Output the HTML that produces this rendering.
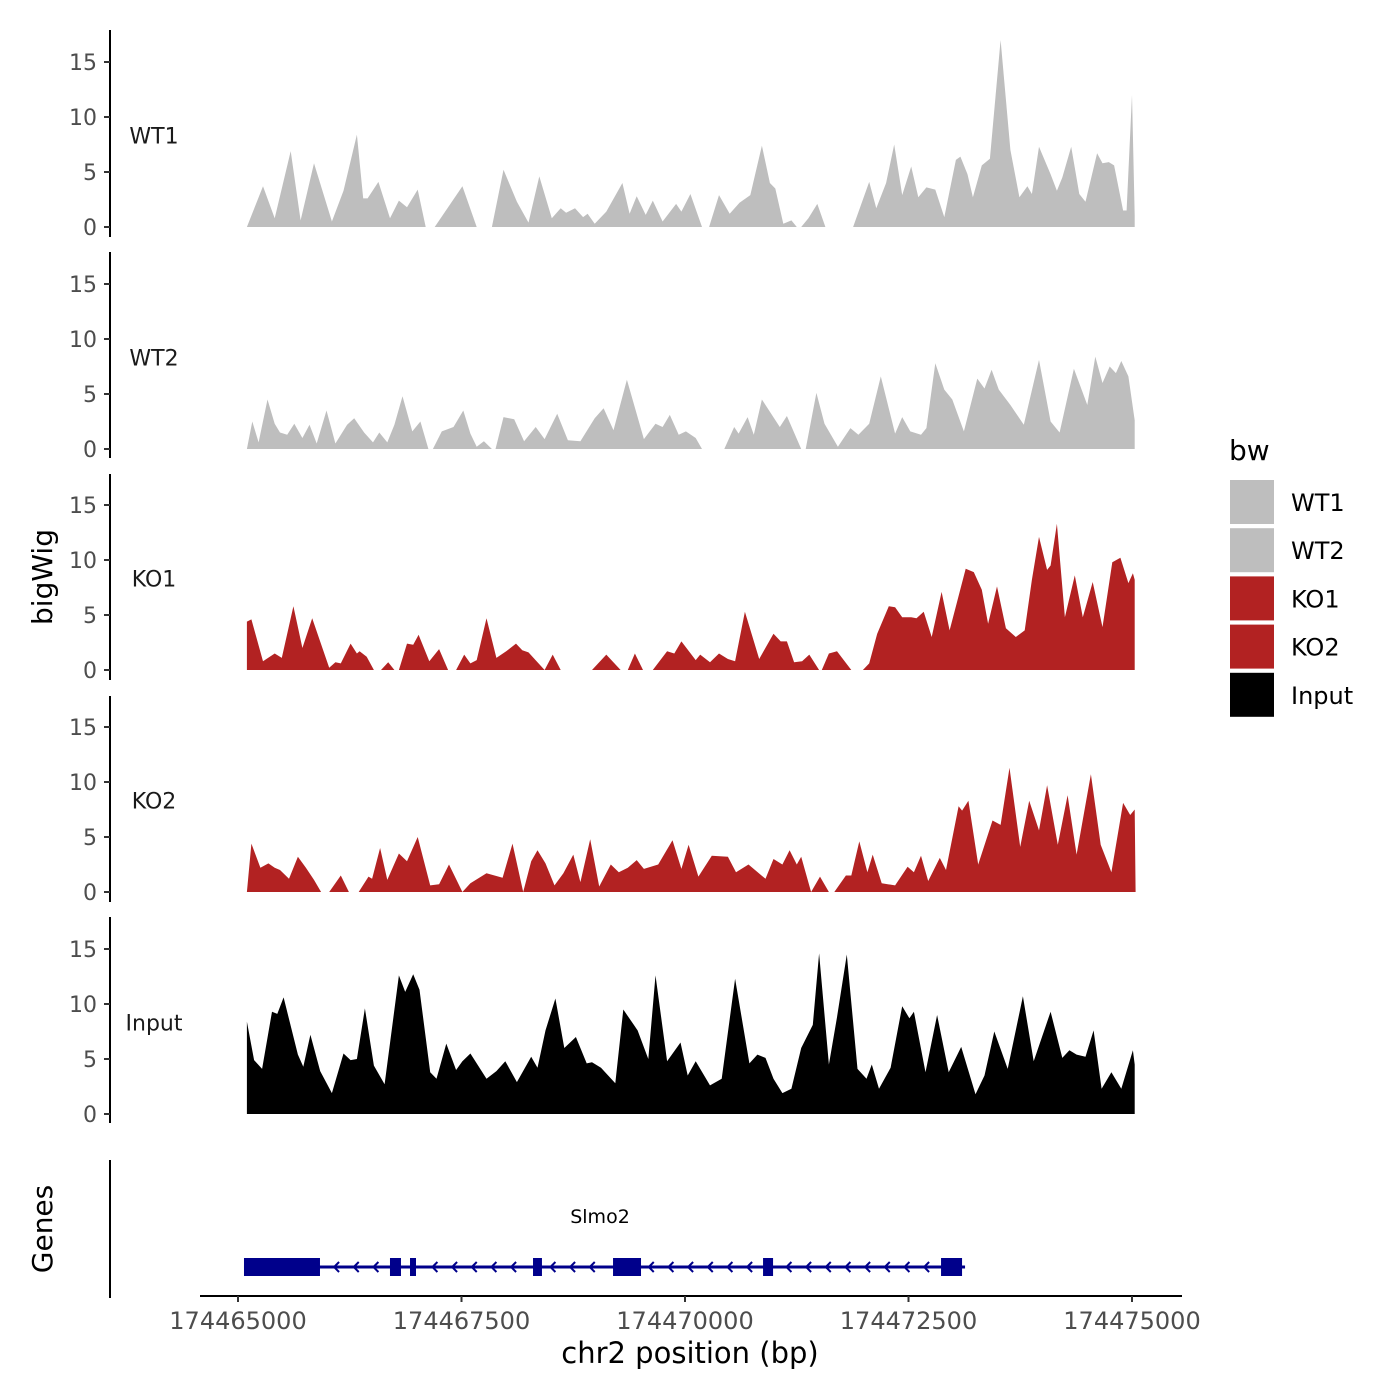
<!DOCTYPE html>
<html><head><meta charset="utf-8"><style>
html,body{margin:0;padding:0;background:#fff;}
svg{display:block;font-family:"DejaVu Sans","Liberation Sans",sans-serif;}
</style></head><body>
<svg id="chart" width="1400" height="1400" viewBox="0 0 1400 1400" xmlns="http://www.w3.org/2000/svg"></svg>
<script>
// ---- data (positions are bp offsets from 174465000; null = gap) ----
const xTickValues = [174465000, 174467500, 174470000, 174472500, 174475000];
const xTickLabels = ["174465000","174467500","174470000","174472500","174475000"];
const yTickValues = [0, 5, 10, 15];
const yTickLabels = ["0","5","10","15"];
const trackNames = ["WT1","WT2","KO1","KO2","Input"];
const trackColors = ["#bebebe","#bebebe","#b22222","#b22222","#000000"];

const wt1Pos = [100,280,410,590,700,850,1050,1180,1330,1400,1450,1570,1700,1800,1890,2010,2100,2150,2200,2510,2670,2750,2840,2970,3120,3250,3370,3510,3610,3670,3770,3860,3910,3990,4120,4300,4380,4460,4560,4640,4750,4900,4960,5060,5190,5230,5270,5380,5500,5610,5730,5860,5950,6010,6100,6190,6250,6280,6300,6380,6480,6570,6700,6880,7060,7140,7250,7340,7430,7530,7610,7700,7800,7900,8030,8080,8160,8220,8320,8410,8530,8640,8740,8830,8880,8960,9090,9160,9220,9320,9410,9480,9610,9670,9740,9800,9900,9940,10000,10030];
const wt1Val = [0,3.7,0.8,6.9,0.6,5.8,0.5,3.3,8.4,2.6,2.6,4.1,0.8,2.4,1.8,3.4,0,null,0,3.7,0,null,0,5.2,2.3,0.4,4.6,0.8,1.7,1.3,1.7,0.9,1.2,0.3,1.4,4.0,1.2,2.8,1.1,2.4,0.5,2.1,1.4,3.0,0,null,0,2.9,1.2,2.2,2.9,7.4,4.0,3.5,0.3,0.6,0,null,0,0.8,2.1,0,null,0,4.1,1.7,4.0,7.5,2.9,5.5,2.7,3.6,3.4,0.9,6.1,6.4,4.8,2.7,5.6,6.2,17.0,7.0,2.7,3.7,3.0,7.3,4.8,3.3,4.5,7.3,3.0,2.3,6.7,5.8,5.9,5.6,1.5,1.5,12.0,1.0];

const wt2Pos = [100,160,230,330,410,470,550,630,720,800,880,990,1090,1220,1300,1410,1510,1580,1670,1750,1840,1950,2040,2130,2150,2180,2280,2410,2520,2600,2670,2750,2840,2860,2880,2970,3090,3200,3330,3430,3570,3690,3830,3990,4090,4200,4350,4540,4670,4750,4830,4930,5010,5120,5190,5300,5440,5550,5600,5700,5770,5860,6060,6140,6300,6320,6350,6470,6560,6710,6850,6940,7060,7190,7350,7430,7520,7640,7700,7800,7900,7990,8120,8270,8350,8430,8510,8640,8790,8960,9090,9190,9350,9500,9590,9670,9750,9820,9880,9960,10030];
const wt2Val = [0,2.5,0.6,4.5,2.3,1.5,1.3,2.3,1.0,2.2,0.5,3.5,0.5,2.2,2.8,1.5,0.6,1.5,0.6,2.2,4.8,1.6,2.5,0,null,0,1.6,2.0,3.5,1.4,0.2,0.7,0,null,0,2.9,2.7,0.7,2.0,0.9,3.2,0.8,0.7,2.8,3.7,1.7,6.3,0.9,2.3,2.0,3.1,1.3,1.6,1.0,0,null,0,2.0,1.4,2.9,1.3,4.5,2.0,3.0,0,null,0,5.1,2.3,0.2,1.9,1.3,2.3,6.6,1.4,2.9,1.6,1.3,1.9,7.8,5.4,4.5,1.6,6.4,5.5,7.2,5.4,4.0,2.2,8.1,2.5,1.5,7.3,4.0,8.4,6.0,7.5,6.9,8.0,6.6,2.6];

const ko1Pos = [100,150,280,410,490,620,720,830,1020,1090,1150,1260,1330,1360,1440,1520,1560,1600,1680,1750,1770,1800,1890,1960,2020,2140,2250,2350,2400,2440,2530,2600,2670,2780,2890,3000,3110,3180,3250,3350,3430,3520,3610,3800,3960,4120,4280,4320,4360,4440,4530,4590,4640,4800,4880,4960,5120,5170,5280,5380,5480,5560,5670,5830,5990,6070,6140,6220,6310,6390,6500,6520,6530,6610,6700,6860,6920,6990,7060,7150,7280,7350,7430,7530,7590,7670,7760,7870,7960,8040,8140,8230,8320,8390,8490,8590,8700,8800,8880,8960,9050,9090,9160,9250,9360,9450,9560,9670,9780,9870,9960,10010,10030];
const ko1Val = [4.4,4.6,0.8,1.5,1.1,5.8,2.0,4.7,0.2,0.7,0.6,2.4,1.5,1.7,1.2,0,null,0,0.7,0,null,0,2.4,2.3,3.2,0.8,1.9,0,null,0,1.4,0.6,0.9,4.7,1.1,1.7,2.4,1.8,1.6,0.7,0,1.4,0,null,0,1.4,0,null,0,1.5,0,null,0,1.7,1.5,2.6,0.9,1.4,0.7,1.5,1.0,0.8,5.3,1.0,3.3,2.6,2.6,0.7,0.8,1.4,0,null,0,1.5,1.7,0,null,0,0.6,3.3,5.8,5.7,4.8,4.8,4.7,5.3,3.0,7.1,3.6,6.1,9.2,8.9,7.3,4.2,7.6,3.8,3.0,3.6,8.2,12.1,9.1,9.5,13.3,4.8,8.6,4.8,8.0,3.9,9.8,10.2,7.9,8.8,8.2];

const ko2Pos = [100,150,250,340,410,470,570,670,760,850,930,970,1020,1150,1240,1300,1350,1460,1500,1590,1670,1800,1890,2010,2150,2250,2360,2510,2600,2780,2960,3070,3190,3280,3350,3440,3540,3640,3750,3830,3940,4040,4170,4260,4360,4460,4540,4700,4860,4960,5040,5150,5300,5480,5570,5710,5900,5990,6090,6170,6250,6300,6410,6510,6610,6640,6670,6800,6860,6950,7040,7100,7200,7350,7490,7560,7640,7720,7850,7920,8060,8100,8170,8280,8440,8530,8630,8750,8850,8960,9050,9170,9280,9380,9540,9650,9770,9900,9980,10030,10040];
const ko2Val = [0,4.4,2.2,2.6,2.2,2.0,1.2,3.2,2.2,1.1,0,null,0,1.5,0,null,0,1.4,1.2,4.0,1.1,3.5,2.8,5.0,0.6,0.7,2.5,0,0.8,1.7,1.3,4.4,0,2.8,3.8,2.6,0.6,1.7,3.4,0.9,4.8,0.5,2.5,1.8,2.2,2.9,2.1,2.5,4.7,2.1,4.3,1.4,3.3,3.2,1.8,2.5,1.2,3.0,2.5,3.8,2.5,3.2,0,1.4,0,null,0,1.5,1.5,4.6,1.8,3.4,0.8,0.6,2.3,1.8,3.3,1.0,3.1,2.0,7.8,7.4,8.3,2.5,6.5,6.1,11.3,4.1,8.3,5.6,9.7,4.3,8.8,3.4,10.7,4.3,1.8,8.1,7.0,7.5,0];

const inputPos = [100,180,270,380,440,510,670,730,810,920,1050,1180,1260,1330,1420,1520,1640,1800,1870,1960,2030,2150,2220,2330,2440,2510,2600,2780,2890,2990,3120,3280,3350,3440,3550,3650,3780,3900,3960,4060,4220,4310,4470,4590,4670,4800,4950,5030,5120,5280,5410,5560,5720,5810,5900,5990,6090,6190,6300,6430,6500,6610,6700,6810,6930,7030,7090,7170,7300,7430,7510,7560,7690,7820,7950,8090,8250,8350,8460,8610,8780,8900,9090,9220,9300,9380,9480,9570,9660,9770,9880,10010,10030];
const inputVal = [8.4,4.9,4.1,9.3,9.1,10.6,5.4,4.3,7.2,3.9,1.9,5.5,4.9,5.0,9.6,4.4,2.7,12.6,11.1,12.7,11.3,3.8,3.2,6.4,4.0,4.8,5.5,3.2,3.9,4.8,2.9,5.2,4.2,7.6,10.5,6.0,7.0,4.6,4.7,4.2,2.8,9.5,7.6,5.0,12.6,4.8,6.5,3.5,4.8,2.6,3.2,12.3,4.6,5.4,5.1,3.2,1.9,2.3,6.0,8.1,14.6,4.5,8.8,14.5,4.1,3.2,4.5,2.3,4.2,9.8,8.7,9.3,3.8,9.0,3.8,6.1,1.8,3.5,7.5,4.1,10.7,4.8,9.3,5.1,5.8,5.4,5.2,7.6,2.3,3.8,2.3,5.8,4.5];

const geneName = "Slmo2";
const geneStart = 67, geneEnd = 8099;
const exonStarts = [67,1700,1924,3300,4195,5873,7864];
const exonEnds   = [917,1823,1991,3400,4508,5985,8099];

// ---- layout ----
const NS = "http://www.w3.org/2000/svg";
const svg = document.getElementById("chart");
const X0 = 174465000;
const xPx = bp => 238 + (bp - X0) * (894 / 10000);
const panels = [
  {top:30,bottom:237,zero:227},{top:252,bottom:458,zero:449},{top:474,bottom:680,zero:670},
  {top:696,bottom:902,zero:892},{top:917,bottom:1123,zero:1114}];
const yPx = (p,v) => panels[p].zero - v * 11;
const seriesPos = [wt1Pos,wt2Pos,ko1Pos,ko2Pos,inputPos];
const seriesVal = [wt1Val,wt2Val,ko1Val,ko2Val,inputVal];

function mk(tag, attrs, parent){
  const e = document.createElementNS(NS, tag);
  for (const k in attrs) e.setAttribute(k, attrs[k]);
  (parent||svg).appendChild(e);
  return e;
}
function txt(s, attrs, parent){ const t = mk("text", attrs, parent); t.textContent = s; return t; }

panels.forEach((pn, p) => {
  const g = mk("g", {});
  
  
  const pos = seriesPos[p], val = seriesVal[p];
  let seg = [];
  const flush = () => {
    if (seg.length > 1) {
      let d = "M" + xPx(X0+seg[0][0]).toFixed(1) + "," + yPx(p,0);
      seg.forEach(s => d += "L" + xPx(X0+s[0]).toFixed(1) + "," + yPx(p,s[1]).toFixed(1));
      d += "L" + xPx(X0+seg[seg.length-1][0]).toFixed(1) + "," + yPx(p,0) + "Z";
      const a = mk("path", {d: d, fill: trackColors[p]}, g);
      
      
    }
    seg = [];
  };
  for (let i = 0; i < pos.length; i++) {
    if (val[i] === null) flush(); else seg.push([pos[i], val[i]]);
  }
  flush();
  const ax = mk("line", {x1:110,x2:110,y1:pn.top,y2:pn.bottom,stroke:"#000","stroke-width":2}, g);
  
  
  yTickValues.forEach((v, k) => {
    const y = yPx(p, v);
    const tk = mk("line", {x1:104,x2:110,y1:y,y2:y,stroke:"#333","stroke-width":2}, g);
    
    
    const tl = txt(yTickLabels[k], {x:97,y:y+8,"text-anchor":"end","font-size":22,fill:"#4d4d4d"}, g);
    
    
  });
  const lb = txt(trackNames[p], {x:154,y:yPx(p,8.3)+8,"text-anchor":"middle","font-size":22,fill:"#1a1a1a"}, g);
  
  
});

const yt = txt("bigWig", {x:0,y:0,"text-anchor":"middle","font-size":28,fill:"#000",transform:"translate(52,577) rotate(-90)"});


const gt = txt("Genes", {x:0,y:0,"text-anchor":"middle","font-size":28,fill:"#000",transform:"translate(52,1229) rotate(-90)"});



const ga = mk("line", {x1:110,x2:110,y1:1160,y2:1298,stroke:"#000","stroke-width":2});


const gg = mk("g", {});


const gy = 1267;
const gl = mk("line", {x1:xPx(X0+geneStart),x2:xPx(X0+geneEnd)+3,y1:gy,y2:gy,stroke:"#00008b","stroke-width":3}, gg);


for (let bp = geneStart + 150; bp < geneEnd + 100; bp += 220) {
  let inEx = false;
  for (let k = 0; k < exonStarts.length; k++) if (bp > exonStarts[k] - 40 && bp < exonEnds[k] + 40) inEx = true;
  if (inEx) continue;
  const x = xPx(X0 + bp);
  const c = mk("polyline", {points:`${x+3},${gy-5} ${x-2},${gy} ${x+3},${gy+5}`,fill:"none",stroke:"#00008b","stroke-width":2}, gg);
  
  
}
exonStarts.forEach((s, k) => {
  const x1 = xPx(X0+s), x2 = xPx(X0+exonEnds[k]);
  const r = mk("rect", {x:x1,y:gy-9,width:x2-x1,height:18,fill:"#00008b"}, gg);
  
  
});
const gn = txt(geneName, {x:600,y:1223,"text-anchor":"middle","font-size":19,fill:"#000"}, gg);



const xa = mk("line", {x1:200,x2:1182,y1:1296,y2:1296,stroke:"#000","stroke-width":2});


xTickValues.forEach((v, k) => {
  const x = xPx(v);
  const t = mk("line", {x1:x,x2:x,y1:1296,y2:1302,stroke:"#333","stroke-width":2});
  
  
  const l = txt(xTickLabels[k], {x:x,y:1329,"text-anchor":"middle","font-size":24,fill:"#4d4d4d"});
  
  
});
const xt = txt("chr2 position (bp)", {x:690,y:1363,"text-anchor":"middle","font-size":29,fill:"#000"});



const lg = mk("g", {});


const lt = txt("bw", {x:1229,y:460,"font-size":28,fill:"#000"}, lg);


trackNames.forEach((n, k) => {
  const y = 480 + k * 48.2;
  const key = mk("rect", {x:1230,y:y,width:44,height:44,fill:trackColors[k]}, lg);
  
  
  const l = txt(n, {x:1291,y:y+31,"font-size":24,fill:"#000"}, lg);
  
  
});
</script>
</body></html>
